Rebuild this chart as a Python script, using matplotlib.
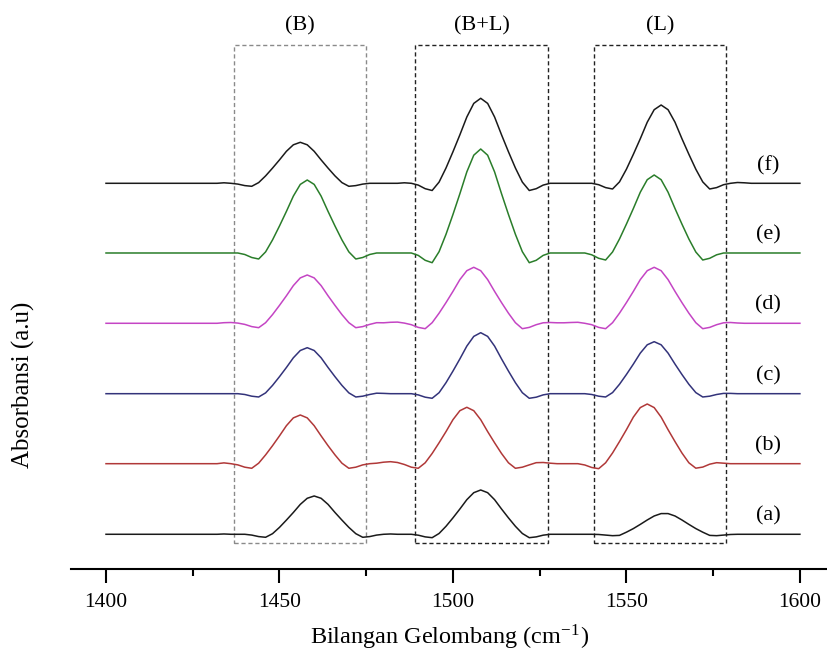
import numpy as np
import matplotlib.pyplot as plt
from matplotlib.patches import Rectangle

plt.rcParams['font.family'] = ['Liberation Serif', 'DejaVu Serif']
plt.rcParams['mathtext.fontset'] = 'stix'

# wavenumber grid (cm-1), 2 cm-1 steps from 1400 to 1600
wavenumber = np.arange(1400, 1601, 2)

# absorbance values, one row = 20 cm-1
spec_a = [0, 0, 0, 0, 0, 0, 0, 0, 0, 0,
          0, 0, 0, 0, 0, 0, 0, 0.03, 0, 0,
          0, -0.08, -0.23, -0.30, 0.06, 0.69, 1.42, 2.18, 2.99, 3.60,
          3.83, 3.60, 2.99, 2.18, 1.42, 0.69, 0.06, -0.30, -0.23, -0.08,
          0, 0.03, 0, 0, 0, -0.09, -0.26, -0.34, 0.08, 0.80,
          1.64, 2.53, 3.46, 4.16, 4.43, 4.16, 3.46, 2.53, 1.64, 0.80,
          0.08, -0.34, -0.26, -0.09, 0, 0, 0, 0, 0, 0,
          0, -0.02, -0.08, -0.14, -0.11, 0.21, 0.57, 0.99, 1.43, 1.83,
          2.07, 2.07, 1.83, 1.43, 0.99, 0.57, 0.21, -0.11, -0.14, -0.08,
          -0.02, 0, 0, 0, 0, 0, 0, 0, 0, 0,
          0]
spec_b = [0, 0, 0, 0, 0, 0, 0, 0, 0, 0,
          0, 0, 0, 0, 0, 0, 0, 0.08, 0, -0.12,
          -0.35, -0.46, 0.05, 0.88, 1.80, 2.78, 3.80, 4.58, 4.87, 4.58,
          3.80, 2.78, 1.80, 0.88, 0.05, -0.46, -0.35, -0.12, 0, 0.05,
          0.15, 0.20, 0.12, -0.08, -0.35, -0.46, 0.09, 1.02, 2.09, 3.21,
          4.40, 5.30, 5.64, 5.30, 4.40, 3.21, 2.09, 1.02, 0.09, -0.46,
          -0.35, -0.12, 0.10, 0.12, 0.05, 0, 0, 0, 0, -0.13,
          -0.38, -0.50, 0.09, 1.07, 2.21, 3.40, 4.66, 5.61, 5.97, 5.61,
          4.66, 3.40, 2.21, 1.07, 0.09, -0.45, -0.34, -0.05, 0.10, 0.05,
          0, 0, 0, 0, 0, 0, 0, 0, 0, 0,
          0]
spec_c = [0, 0, 0, 0, 0, 0, 0, 0, 0, 0,
          0, 0, 0, 0, 0, 0, 0, 0, 0, 0,
          -0.08, -0.25, -0.33, 0.08, 0.83, 1.70, 2.62, 3.59, 4.32, 4.60,
          4.32, 3.59, 2.62, 1.70, 0.83, 0.08, -0.33, -0.25, -0.08, 0.05,
          0.03, 0, 0, 0, 0, -0.12, -0.35, -0.46, 0.10, 1.10,
          2.26, 3.48, 4.76, 5.73, 6.10, 5.73, 4.76, 3.48, 2.26, 1.10,
          0.10, -0.46, -0.35, -0.12, 0, 0, 0, 0, 0, 0,
          -0.08, -0.25, -0.33, 0.11, 0.94, 1.92, 2.96, 4.06, 4.89, 5.20,
          4.89, 4.06, 2.96, 1.92, 0.94, 0.11, -0.33, -0.25, -0.08, 0.03,
          0.03, 0, 0, 0, 0, 0, 0, 0, 0, 0,
          0]
spec_d = [0, 0, 0, 0, 0, 0, 0, 0, 0, 0,
          0, 0, 0, 0, 0, 0, 0, 0.06, 0.08, 0.02,
          -0.11, -0.33, -0.44, 0.06, 0.87, 1.79, 2.75, 3.77, 4.54, 4.83,
          4.54, 3.77, 2.75, 1.79, 0.87, 0.06, -0.44, -0.33, -0.11, 0.06,
          0.05, 0.10, 0.12, 0.02, -0.14, -0.41, -0.54, 0.06, 1.01, 2.07,
          3.19, 4.37, 5.26, 5.60, 5.26, 4.37, 3.19, 2.07, 1.01, 0.06,
          -0.54, -0.41, -0.14, 0.05, 0.08, 0.05, 0.05, 0.08, 0.10, 0,
          -0.14, -0.41, -0.54, 0.06, 1.01, 2.07, 3.19, 4.37, 5.26, 5.60,
          5.26, 4.37, 3.19, 2.07, 1.01, 0.06, -0.54, -0.41, -0.14, 0.05,
          0.08, 0.03, 0, 0, 0, 0, 0, 0, 0, 0,
          0]
spec_e = [0, 0, 0, 0, 0, 0, 0, 0, 0, 0,
          0, 0, 0, 0, 0, 0, 0, 0, 0, 0,
          -0.15, -0.45, -0.60, 0.11, 1.31, 2.70, 4.16, 5.69, 6.86, 7.30,
          6.86, 5.69, 4.16, 2.70, 1.31, 0.11, -0.60, -0.45, -0.15, 0,
          0, 0, 0, 0, 0, -0.24, -0.73, -0.97, 0.13, 1.87,
          3.85, 5.93, 8.11, 9.78, 10.40, 9.78, 8.11, 5.93, 3.85, 1.87,
          0.13, -0.97, -0.73, -0.24, 0, 0, 0, 0, 0, 0,
          -0.18, -0.53, -0.70, 0.10, 1.40, 2.89, 4.45, 6.08, 7.33, 7.80,
          7.33, 6.08, 4.45, 2.89, 1.40, 0.10, -0.70, -0.53, -0.18, 0,
          0, 0, 0, 0, 0, 0, 0, 0, 0, 0,
          0]
spec_f = [0, 0, 0, 0, 0, 0, 0, 0, 0, 0,
          0, 0, 0, 0, 0, 0, 0, 0.05, 0, -0.08,
          -0.23, -0.30, 0.07, 0.74, 1.52, 2.34, 3.20, 3.85, 4.10, 3.85,
          3.20, 2.34, 1.52, 0.74, 0.07, -0.30, -0.23, -0.08, 0, 0,
          0, 0, 0, 0.05, 0, -0.18, -0.54, -0.72, 0.12, 1.53,
          3.15, 4.85, 6.63, 7.99, 8.50, 7.99, 6.63, 4.85, 3.15, 1.53,
          0.12, -0.72, -0.54, -0.18, 0, 0, 0, 0, 0, 0,
          0, -0.14, -0.43, -0.57, 0.14, 1.41, 2.90, 4.46, 6.11, 7.36,
          7.83, 7.36, 6.11, 4.46, 2.90, 1.41, 0.14, -0.57, -0.43, -0.14,
          0, 0.08, 0.05, 0, 0, 0, 0, 0, 0, 0,
          0]

spectra = [spec_a, spec_b, spec_c, spec_d, spec_e, spec_f]
sample_labels = ['(a)', '(b)', '(c)', '(d)', '(e)', '(f)']
offsets = [0, 7.06, 14.06, 21.1, 28.13, 35.1]
colors = ['#1a1a1a', '#b03838', '#33337a', '#c445c4', '#2a7d2a', '#1a1a1a']

# acid site regions: Bronsted, Bronsted+Lewis, Lewis
region_labels = ['(B)', '(B+L)', '(L)']
region_lo = [1437, 1489.2, 1540.6]
region_hi = [1474.8, 1527.3, 1578.6]
region_colors = ['#8a8a8a', '#222222', '#222222']

fig = plt.figure(figsize=(8.28, 6.54), dpi=100)
ax = fig.add_axes([0.0857, 0.13, 0.9143, 0.8547])

for y, off, c, lab in zip(spectra, offsets, colors, sample_labels):
    ax.plot(wavenumber, np.array(y) + off, color=c, lw=1.1)
    ax.text(1590.8, off + 1.8, lab, ha='center', va='center', fontsize=16)

box_bottom, box_top = -0.84, 48.93
for lo, hi, lab, c in zip(region_lo, region_hi, region_labels, region_colors):
    ax.add_patch(Rectangle((lo, box_bottom), hi - lo, box_top - box_bottom,
                           fill=False, ec=c, lw=1.0, ls=(0, (3, 2))))
    ax.text((lo + hi) / 2, 50.8, lab, ha='center', va='center', fontsize=16)

ax.set_xlim(1389.9, 1608.1)
ax.set_ylim(-3.47, 52.43)
ax.set_xticks([1400, 1450, 1500, 1550, 1600])
ax.set_xticks([1425, 1475, 1525, 1575], minor=True)
ax.tick_params(axis='x', which='major', length=10, width=1.5, pad=7, labelsize=15.5)
ax.tick_params(axis='x', which='minor', length=5, width=1.5)
ax.set_yticks([])
for s in ['left', 'right', 'top']:
    ax.spines[s].set_visible(False)
ax.spines['bottom'].set_linewidth(1.5)

ax.set_xlabel(r'Bilangan Gelombang (cm$^{\mathregular{-1}}$)', fontsize=17.5, labelpad=8)
ax.set_ylabel('Absorbansi (a.u)', fontsize=18)
ax.yaxis.set_label_coords(-0.048, 0.33)

fig.savefig('out.png', dpi=100)
